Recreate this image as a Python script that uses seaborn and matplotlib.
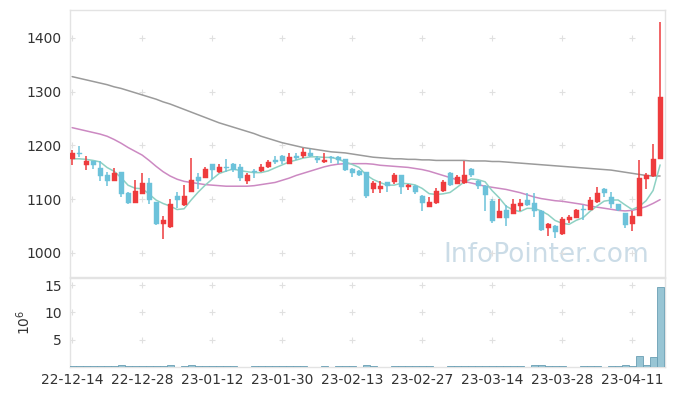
import numpy as np
import pandas as pd
import matplotlib
matplotlib.use("Agg")
import matplotlib.pyplot as plt
import seaborn as sns

# ---------------- data ----------------
opens = [1175, 1186, 1164, 1170, 1158, 1145, 1134, 1150, 1112, 1093,
         1110, 1130, 1094, 1054, 1049, 1106, 1089, 1114, 1141, 1140,
         1165, 1150, 1160, 1165, 1159, 1134, 1152, 1152, 1159, 1172,
         1180, 1166, 1181, 1180, 1186, 1176, 1169, 1178, 1179, 1174,
         1156, 1152, 1150, 1118, 1118, 1131, 1132, 1144, 1123, 1125,
         1106, 1086, 1092, 1115, 1149, 1129, 1130, 1156, 1133, 1125,
         1096, 1065, 1080, 1073, 1088, 1099, 1093, 1078, 1046, 1050,
         1035, 1061, 1065, 1081, 1080, 1094, 1119, 1104, 1090, 1074,
         1054, 1069, 1137, 1143, 1175]
closes = [1186, 1184, 1170, 1163, 1143, 1134, 1149, 1110, 1093, 1115,
          1130, 1099, 1054, 1061, 1091, 1098, 1106, 1135, 1134, 1156,
          1154, 1159, 1158, 1154, 1140, 1144, 1150, 1159, 1169, 1169,
          1171, 1178, 1176, 1188, 1180, 1172, 1172, 1176, 1172, 1154,
          1149, 1144, 1106, 1130, 1125, 1125, 1144, 1123, 1126, 1114,
          1093, 1095, 1115, 1132, 1127, 1141, 1144, 1144, 1125, 1107,
          1059, 1078, 1065, 1090, 1092, 1089, 1077, 1043, 1054, 1038,
          1063, 1067, 1080, 1079, 1098, 1112, 1112, 1090, 1080, 1052,
          1069, 1140, 1144, 1175, 1290]
highs = [1191, 1199, 1180, 1171, 1170, 1150, 1158, 1151, 1114, 1135,
         1149, 1139, 1095, 1068, 1100, 1114, 1126, 1176, 1149, 1160,
         1166, 1165, 1175, 1167, 1166, 1149, 1156, 1166, 1172, 1180,
         1183, 1185, 1185, 1196, 1194, 1181, 1185, 1181, 1180, 1175,
         1157, 1154, 1151, 1133, 1133, 1132, 1148, 1145, 1129, 1126,
         1107, 1103, 1120, 1136, 1150, 1144, 1170, 1158, 1136, 1127,
         1101, 1101, 1089, 1100, 1101, 1111, 1111, 1079, 1055, 1051,
         1066, 1070, 1082, 1089, 1104, 1123, 1120, 1114, 1091, 1075,
         1077, 1172, 1148, 1203, 1430]
lows = [1164, 1178, 1155, 1156, 1134, 1125, 1133, 1104, 1090, 1092,
        1109, 1090, 1052, 1025, 1046, 1083, 1088, 1113, 1119, 1139,
        1138, 1148, 1150, 1150, 1134, 1129, 1140, 1151, 1158, 1165,
        1166, 1165, 1172, 1176, 1179, 1167, 1168, 1168, 1165, 1152,
        1141, 1143, 1102, 1112, 1112, 1114, 1129, 1110, 1117, 1110,
        1078, 1085, 1091, 1114, 1124, 1128, 1129, 1141, 1118, 1078,
        1055, 1064, 1050, 1072, 1078, 1087, 1067, 1041, 1032, 1028,
        1034, 1055, 1064, 1062, 1079, 1093, 1104, 1083, 1078, 1046,
        1040, 1068, 1119, 1142, 1175]
ma5_head = [1175, 1175, 1174, 1172]
ma20 = [1233, 1230, 1227, 1224, 1221, 1217, 1211, 1204, 1196, 1189,
        1182, 1172, 1161, 1151, 1143, 1137, 1133, 1131, 1129, 1127,
        1126, 1125, 1124, 1124, 1124, 1124, 1125, 1127, 1129, 1131,
        1135, 1139, 1144, 1148, 1152, 1156, 1160, 1163, 1165, 1166,
        1166, 1166, 1166, 1165, 1163, 1162, 1161, 1160, 1159, 1157,
        1155, 1152, 1148, 1144, 1140, 1136, 1133, 1130, 1127, 1124,
        1122, 1120, 1118, 1115, 1112, 1108, 1104, 1101, 1099, 1097,
        1096, 1094, 1092, 1090, 1087, 1085, 1083, 1081, 1079, 1078,
        1079, 1082, 1086, 1092, 1099]
ma60 = [1328, 1325, 1322, 1319, 1316, 1313, 1309, 1306, 1302, 1298,
        1294, 1290, 1286, 1281, 1277, 1272, 1267, 1262, 1257, 1252,
        1247, 1242, 1238, 1234, 1230, 1226, 1222, 1217, 1213, 1209,
        1205, 1202, 1199, 1196, 1194, 1192, 1190, 1188, 1187, 1186,
        1184, 1182, 1180, 1178, 1177, 1176, 1175, 1175, 1174, 1174,
        1173, 1173, 1172, 1172, 1172, 1172, 1172, 1171, 1171, 1171,
        1170, 1170, 1169, 1168, 1167, 1166, 1165, 1164, 1163, 1162,
        1161, 1160, 1159, 1158, 1157, 1156, 1155, 1154, 1152, 1150,
        1148, 1146, 1144, 1143, 1143]
volume_m = [0.1, 0.1, 0.1, 0.1, 0.1, 0.1, 0.1, 0.35, 0.1, 0.1,
            0.1, 0.1, 0.1, 0.1, 0.35, 0.02, 0.1, 0.3, 0.1, 0.1,
            0.1, 0.1, 0.1, 0.1, 0.02, 0.02, 0.1, 0.1, 0.1, 0.1,
            0.1, 0.1, 0.1, 0.1, 0.02, 0.02, 0.1, 0.02, 0.1, 0.1,
            0.1, 0.02, 0.35, 0.1, 0.02, 0.02, 0.1, 0.1, 0.1, 0.1,
            0.1, 0.1, 0.02, 0.02, 0.1, 0.1, 0.1, 0.1, 0.1, 0.1,
            0.1, 0.1, 0.1, 0.1, 0.1, 0.02, 0.3, 0.3, 0.1, 0.1,
            0.1, 0.02, 0.02, 0.1, 0.1, 0.1, 0.02, 0.1, 0.1, 0.3,
            0.15, 2.1, 0.3, 1.9, 14.7]
tick_labels = ["22-12-14", "22-12-28", "23-01-12", "23-01-30", "23-02-13",
               "23-02-27", "23-03-14", "23-03-28", "23-04-11"]

# ---------------- styling ----------------
sns.set_theme(style="white")
plt.rcParams['font.family'] = ['DejaVu Sans']

RED = "#ee3b3d"
BLUE = "#6cc2da"
SPINE = "#e3e3e3"
TXT = "#333333"

n = len(closes)
idx = np.arange(n)
df = pd.DataFrame({"i": idx, "open": opens, "close": closes,
                   "high": highs, "low": lows, "ma20": ma20, "ma60": ma60,
                   "vol": volume_m})
ma5 = df["close"].rolling(5).mean().to_numpy()
ma5[:4] = ma5_head
df["ma5"] = ma5

fig = plt.figure(figsize=(6.73, 3.96), dpi=100)
ax = fig.add_axes([70/673, 1-277/396, 595/673, 267/396])
axv = fig.add_axes([70/673, 1-367/396, 595/673, 89/396], sharex=ax)

ax.text(0.80, 0.082, "InfoPointer.com", transform=ax.transAxes, ha="center",
        va="center", fontsize=19, color="#cbdce7", zorder=0)

# moving averages
sns.lineplot(data=df, x="i", y="ma60", ax=ax, color="#9b9b9b", lw=1.1, zorder=2)
sns.lineplot(data=df, x="i", y="ma20", ax=ax, color="#cc89c2", lw=1.1, zorder=2)
sns.lineplot(data=df, x="i", y="ma5", ax=ax, color="#8ed1c3", lw=1.1, zorder=2)

# candles
up = df["close"] >= df["open"]
colors = np.where(up, RED, BLUE)
ax.vlines(df["i"], df["low"], df["high"], colors=colors, lw=1.1, zorder=3)
body_lo = np.minimum(df["open"], df["close"])
body_h = np.maximum(np.abs(df["close"] - df["open"]), 1.2)
ax.bar(df["i"], body_h, bottom=body_lo, width=0.7, color=colors,
       edgecolor=colors, lw=0.3, zorder=4)

ax.set_ylim(955, 1452)
ax.set_xlim(-0.3, 84.7)
ax.set_yticks([1000, 1100, 1200, 1300, 1400])
ax.set_xlabel("")
ax.set_ylabel("")
ax.tick_params(axis="x", labelbottom=False, length=0)
ax.tick_params(axis="y", length=0, labelsize=10, labelcolor=TXT, pad=6)

# grid '+' markers
xt = np.arange(0, 81, 10)
gx, gy = np.meshgrid(xt, [1000, 1100, 1200, 1300, 1400])
ax.scatter(gx.ravel(), gy.ravel(), marker="+", s=16, color="#e0e0e0", lw=0.8, zorder=1)

# volume
axv.bar(df["i"], df["vol"], width=1.0, color="#98c5d4", edgecolor="#6a9fb4",
        lw=0.6, zorder=3)
axv.set_ylim(0, 16.3)
axv.set_yticks([5, 10, 15])
axv.set_xticks(xt)
axv.set_xticklabels(tick_labels)
axv.tick_params(axis="x", length=0, labelsize=10, labelcolor=TXT, pad=4)
axv.tick_params(axis="y", length=0, labelsize=10, labelcolor=TXT, pad=6)
axv.set_ylabel(r"$10^6$", color=TXT, fontsize=10, labelpad=8)
axv.set_xlabel("")
gx2, gy2 = np.meshgrid(xt, [5, 10, 15])
axv.scatter(gx2.ravel(), gy2.ravel(), marker="+", s=16, color="#e0e0e0", lw=0.8, zorder=1)

for a in (ax, axv):
    for s in a.spines.values():
        s.set_color(SPINE)
        s.set_linewidth(1.0)

fig.savefig("out.png", dpi=100)
